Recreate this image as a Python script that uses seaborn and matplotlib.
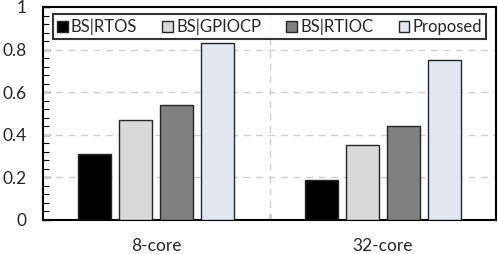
import matplotlib
matplotlib.use("Agg")
import matplotlib.pyplot as plt
import seaborn as sns
import pandas as pd
from matplotlib.ticker import MultipleLocator, FuncFormatter

categories = ["8-core", "32-core"]
series = ["BS|RTOS", "BS|GPIOCP", "BS|RTIOC", "Proposed"]
values = {
    "BS|RTOS": [0.31, 0.19],
    "BS|GPIOCP": [0.47, 0.35],
    "BS|RTIOC": [0.54, 0.44],
    "Proposed": [0.83, 0.75],
}
colors = ["#000000", "#D9D9D9", "#808080", "#DEE8F5"]

rows = []
for s in series:
    for c, v in zip(categories, values[s]):
        rows.append({"cat": c, "series": s, "value": v})
df = pd.DataFrame(rows)

sns.set_theme(style="white")
plt.rcParams["font.family"] = ["Lato", "DejaVu Sans"]

fig = plt.figure(figsize=(4.98, 2.54), dpi=100)
ax = fig.add_axes([43 / 498, 1 - 220 / 254, (496 - 43) / 498, (220 - 7) / 254])

sns.barplot(data=df, x="cat", y="value", hue="series", order=categories,
            hue_order=series, palette=colors, width=0.724, gap=0.19,
            edgecolor="#262626", linewidth=1.0, ax=ax, zorder=3)

ax.set_ylim(0, 1)
ax.set_xlim(-0.5, 1.5)
ax.set_xlabel("")
ax.set_ylabel("")

ax.yaxis.set_major_locator(MultipleLocator(0.2))
ax.yaxis.set_minor_locator(MultipleLocator(0.04))
ax.yaxis.set_major_formatter(FuncFormatter(lambda v, p: f"{v:g}"))
ax.tick_params(axis="y", which="major", direction="in", length=5, width=1,
               color="black", labelsize=12.5, pad=12, left=True)
ax.tick_params(axis="y", which="minor", direction="in", length=4, width=0.8,
               color="black", left=True)
ax.tick_params(axis="x", which="major", length=0, labelsize=12.5, pad=13)
ax.set_xticks([0.5], minor=True)
ax.tick_params(axis="x", which="minor", direction="in", length=4, width=1,
               color="black", bottom=True)

for y in [0.2, 0.4, 0.6, 0.8]:
    ax.axhline(y, color="#D0D0D0", linestyle=(0, (5, 4)), linewidth=1, zorder=1)
ax.axvline(0.5, color="#D0D0D0", linestyle=(0, (5, 4)), linewidth=1, zorder=1)

for sp in ax.spines.values():
    sp.set_visible(True)
    sp.set_color("black")
    sp.set_linewidth(1.5)

leg = ax.legend(ncol=4, loc="upper center", bbox_to_anchor=(0.5, 0.965),
                frameon=True, fontsize=12, handlelength=0.65, handleheight=0.65,
                handletextpad=0.2, columnspacing=1.5, borderpad=0.25,
                fancybox=False, borderaxespad=0)
leg.get_frame().set_edgecolor("black")
leg.get_frame().set_linewidth(1.5)
leg.set_zorder(5)

fig.savefig("out.png", dpi=100)
